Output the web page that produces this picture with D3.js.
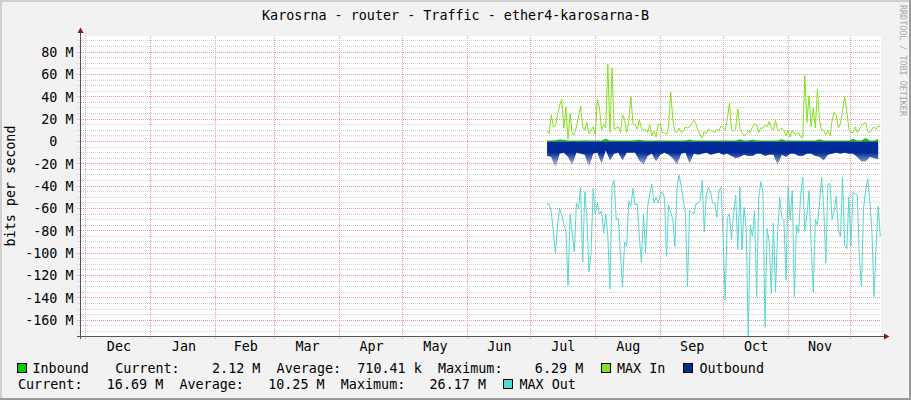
<!DOCTYPE html>
<html><head><meta charset="utf-8">
<script src="https://cdn.jsdelivr.net/npm/d3@7/dist/d3.min.js"></script>
<style>
html,body{margin:0;padding:0;background:#F2F2F2;}
svg{display:block;}
text{font-family:"DejaVu Sans Mono",monospace;font-size:13.4px;fill:#000;}
</style></head><body>
<svg id="chart" width="911" height="400"></svg>
<script>
// ---------- data ----------
const title = "Karosrna - router - Traffic - ether4-karosarna-B";
const yLabel = "bits per second";
const watermark = "RRDTOOL / TOBI OETIKER";
const monthLabels = ["Dec","Jan","Feb","Mar","Apr","May","Jun","Jul","Aug","Sep","Oct","Nov"];
const yTickValues = [80,60,40,20,0,-20,-40,-60,-80,-100,-120,-140,-160];
const yTickLabels = ["80 M","60 M","40 M","20 M","0\u00a0\u00a0","-20 M","-40 M","-60 M","-80 M","-100 M","-120 M","-140 M","-160 M"];
const seriesStart = "2014-07-09";   // first sample of every series (values in M bits/s)
const avgStepDays = 2;              // inbound / outbound: one sample every 2 days
const maxStepDays = 1;              // MAX In / MAX Out: one sample per day
const inbound = [0.9,0.9,1.0,1.8,1.6,0.9,0.8,0.9,0.9,1.0,
  0.9,0.9,0.9,0.9,2.5,0.9,0.8,0.9,0.9,0.9,
  0.9,1.0,1.5,0.9,0.9,0.8,0.9,0.9,0.9,0.9,
  0.9,0.9,0.9,0.9,1.8,0.9,0.9,0.8,0.9,0.9,
  0.9,0.9,0.9,0.9,0.9,0.9,2.0,0.9,0.9,1.8,
  0.9,0.9,0.9,0.9,0.9,0.9,2.0,0.9,0.9,0.9,
  0.9,0.9,0.9,0.9,0.9,2.0,0.9,0.9,0.9,0.9,
  0.9,0.9,0.9,2.5,0.9,0.9,3.0,0.9,0.9,2.1];
const outbound = [-13,-14,-24,-11,-10,-14,-21,-10,-11,-12,
  -23,-11,-10,-20,-8,-17,-11,-10,-17,-10,
  -10,-10,-17,-21,-13,-11,-18,-12,-10,-12,
  -15,-21,-11,-10,-20,-11,-12,-11,-10,-12,
  -11,-10,-12,-11,-13,-15,-14,-12,-13,-13,
  -11,-11,-13,-12,-12,-21,-12,-14,-11,-11,
  -13,-13,-11,-11,-13,-14,-17,-12,-11,-10,
  -11,-10,-11,-11,-14,-18,-18,-14,-15,-16];
const maxIn = [10,7,24,13,14,24,32,38,12,31,
  2,25,7,6,13,22,32,13,10,17,
  7,10,13,6,38,30,10,15,12,69,
  8,66,11,12,13,8,24,20,8,18,
  40,16,15,11,19,12,10,11,8,15,
  5,9,4,15,16,8,8,6,14,44,
  20,9,8,12,8,9,13,12,13,16,
  19,16,10,6,3,9,7,11,10,9,
  8,11,9,14,12,10,20,34,11,9,
  12,29,12,8,5,7,9,8,13,16,
  15,8,12,12,15,13,18,12,10,19,
  10,10,12,10,5,10,4,10,7,6,
  8,4,3,59,17,41,13,30,12,47,
  19,10,10,6,10,5,19,26,23,12,
  16,28,40,28,11,8,8,13,8,11,
  14,16,17,9,8,11,13,11,14,13];
const maxOut = [-56,-56,-63,-80,-100,-75,-60,-66,-74,-80,
  -129,-65,-82,-99,-55,-60,-41,-108,-45,-68,
  -117,-100,-42,-65,-55,-65,-62,-82,-65,-85,
  -132,-40,-35,-70,-69,-100,-130,-90,-94,-53,
  -58,-42,-57,-56,-85,-108,-65,-100,-58,-47,
  -38,-55,-50,-55,-48,-45,-50,-103,-57,-63,
  -70,-94,-41,-30,-40,-53,-63,-130,-62,-63,
  -65,-56,-55,-53,-35,-81,-48,-41,-45,-55,
  -55,-68,-44,-41,-85,-142,-68,-65,-88,-65,
  -48,-97,-41,-97,-59,-78,-174,-75,-85,-62,
  -139,-50,-36,-45,-166,-78,-90,-136,-73,-135,
  -82,-50,-68,-70,-124,-40,-70,-44,-139,-75,
  -82,-48,-32,-80,-66,-44,-91,-135,-70,-75,
  -55,-32,-59,-109,-38,-38,-70,-62,-49,-80,
  -85,-32,-93,-96,-50,-94,-45,-47,-48,-103,
  -130,-60,-44,-33,-53,-80,-139,-94,-58,-85];
const seriesNames = ["Inbound","MAX In","Outbound","MAX Out"];
const statLabels = ["Current:","Average:","Maximum:"];
const inboundStats = ["2.12 M","710.41 k","6.29 M"];
const outboundStats = ["16.69 M","10.25 M","26.17 M"];

// ---------- styles ----------
const colors = {inbound:"#00CC00", maxIn:"#84E21F", outbound:"#002A97", maxOut:"#55D7D2"};

// ---------- layout ----------
const svg = d3.select("#chart");
const L = 81, R = 881, T = 36, B = 336;
const x = d3.scaleUtc()
  .domain([new Date(Date.UTC(2013,10,28,15)), new Date(Date.UTC(2014,11,15,8))])
  .range([L, R]);
const y = d3.scaleLinear().domain([-174.6, 94.4]).range([336.5, 36]);
const snap = v => Math.round(v - 0.5) + 0.5;

// background & frame
svg.append("rect").attr("width",911).attr("height",400).attr("fill","#F2F2F2");
svg.append("rect").attr("x",0).attr("y",0).attr("width",911).attr("height",2).attr("fill","#CFCFCF");
svg.append("rect").attr("x",0).attr("y",0).attr("width",2).attr("height",400).attr("fill","#CFCFCF");
svg.append("rect").attr("x",0).attr("y",398).attr("width",911).attr("height",2).attr("fill","#9A9A9A");
svg.append("rect").attr("x",909).attr("y",0).attr("width",2).attr("height",400).attr("fill","#9A9A9A");

// canvas
svg.append("rect").attr("x",L).attr("y",T).attr("width",R-L).attr("height",B-T).attr("fill","#FFFFFF");

// grid
const grid = svg.append("g");
const minorVals = d3.range(-170, 95, 5).filter(v => v % 20 !== 0);
grid.selectAll("line.minor").data(minorVals).join("line")
  .attr("x1",77).attr("x2",R).attr("y1",d=>snap(y(d))).attr("y2",d=>snap(y(d)))
  .attr("stroke","#CFCFCF").attr("stroke-dasharray","1,1");
const majorVals = d3.range(-160, 95, 20);
grid.selectAll("line.major").data(majorVals).join("line")
  .attr("x1",77).attr("x2",R).attr("y1",d=>snap(y(d))).attr("y2",d=>snap(y(d)))
  .attr("stroke","#E89C9C").attr("stroke-dasharray","1,1");
const monthStarts = d3.utcMonth.range(x.domain()[0], x.domain()[1]).filter(d => x(d) > L);
grid.selectAll("line.vmaj").data(monthStarts).join("line")
  .attr("x1",d=>snap(x(d))).attr("x2",d=>snap(x(d))).attr("y1",T).attr("y2",339)
  .attr("stroke","#E89C9C").attr("stroke-dasharray","1,1");

// data
const t0 = new Date(seriesStart + "T00:00:00Z");
const avgDate = i => d3.utcDay.offset(t0, i * avgStepDays);
const maxDate = i => d3.utcDay.offset(t0, i * maxStepDays);
const plot = svg.append("g");
plot.append("path").datum(inbound)
  .attr("fill", colors.inbound)
  .attr("d", d3.area().x((d,i)=>x(avgDate(i))).y0(y(0)).y1(d=>y(d)));
plot.append("path").datum(maxIn)
  .attr("fill","none").attr("stroke",colors.maxIn).attr("stroke-width",1)
  .attr("d", d3.line().x((d,i)=>x(maxDate(i))).y(d=>y(d)));

const defs = svg.append("defs");
const grad = defs.append("linearGradient").attr("id","outGrad")
  .attr("gradientUnits","userSpaceOnUse").attr("x1",0).attr("x2",0)
  .attr("y1",y(0)).attr("y2",y(-25));
grad.append("stop").attr("offset",0).attr("stop-color",colors.outbound).attr("stop-opacity",1);
grad.append("stop").attr("offset",0.4).attr("stop-color",colors.outbound).attr("stop-opacity",1);
grad.append("stop").attr("offset",1).attr("stop-color",colors.outbound).attr("stop-opacity",0.05);
plot.append("path").datum(outbound)
  .attr("fill","url(#outGrad)")
  .attr("d", d3.area().x((d,i)=>x(avgDate(i))).y0(y(0)).y1(d=>y(d)));
plot.append("path").datum(maxOut)
  .attr("fill","none").attr("stroke",colors.maxOut).attr("stroke-width",1)
  .attr("d", d3.line().x((d,i)=>x(maxDate(i))).y(d=>y(Math.max(d, y.domain()[0]))));

// axes
const yAxis = d3.axisLeft(y).tickValues(yTickValues)
  .tickFormat((d,i)=>yTickLabels[i]).tickSize(0).tickPadding(7);
const gy = svg.append("g").attr("transform","translate(80.5,0)").call(yAxis);
gy.select(".domain").remove();

const monthMids = monthLabels.map((m,i) => {
  const s = d3.utcMonth.offset(new Date(Date.UTC(2013,11,1)), i);
  const e = d3.utcMonth.offset(s, 1);
  return new Date((+s + +e) / 2);
});
const xAxis = d3.axisBottom(x).tickValues(monthMids)
  .tickFormat((d,i)=>monthLabels[i]).tickSize(0).tickPadding(5);
const gx = svg.append("g").attr("transform","translate(0,336.5)").call(xAxis);
gx.select(".domain").remove();

svg.append("line").attr("x1",80.5).attr("x2",80.5).attr("y1",339).attr("y2",32).attr("stroke","#555");
svg.append("line").attr("x1",77).attr("x2",885).attr("y1",336.5).attr("y2",336.5).attr("stroke","#555");
svg.append("path").attr("d","M77.5,33 L80.5,27.5 L83.5,33 Z").attr("fill","#8B1515");
svg.append("path").attr("d","M884,333.5 L889.5,336.5 L884,339.5 Z").attr("fill","#8B1515");

// titles
svg.append("text").attr("x",455.5).attr("y",20).attr("text-anchor","middle").text(title);
svg.append("text").attr("transform","translate(15,186) rotate(-90)").attr("text-anchor","middle").text(yLabel);
svg.append("text").attr("transform","translate(900,5) rotate(90)")
  .style("font-size","8.4px").style("fill","#A8A8A8").text(watermark);

// legend
const cw = 8.07;
const leg = svg.append("g");
function box(xp, yp, c){
  leg.append("rect").attr("x",xp+0.5).attr("y",yp+0.5).attr("width",9).attr("height",9)
    .attr("fill",c).attr("stroke","#000").attr("stroke-width",1);
}
function txt(xp, yp, s){ leg.append("text").attr("x",xp).attr("y",yp).text(s); }
// row 1
const r1 = 373, x1 = 34.5;
box(17, 363, colors.inbound);
txt(32.5, r1, seriesNames[0]);
txt(x1+10*cw, r1, statLabels[0]);
txt(x1+22*cw, r1, inboundStats[0]);
txt(x1+30*cw, r1, statLabels[1]);
txt(x1+40*cw, r1, inboundStats[1]);
txt(x1+50*cw, r1, statLabels[2]);
txt(x1+62*cw, r1, inboundStats[2]);
box(601, 363, colors.maxIn);
txt(617, r1, seriesNames[1]);
box(683, 363, colors.outbound);
txt(699.5, r1, seriesNames[2]);
// row 2
const r2 = 389, x2 = 18;
txt(x2, r2, statLabels[0]);
txt(x2+11*cw, r2, outboundStats[0]);
txt(x2+20*cw, r2, statLabels[1]);
txt(x2+31*cw, r2, outboundStats[1]);
txt(x2+40*cw, r2, statLabels[2]);
txt(x2+51*cw, r2, outboundStats[2]);
box(503, 379, colors.maxOut);
txt(519.5, r2, seriesNames[3]);
</script>
</body></html>
